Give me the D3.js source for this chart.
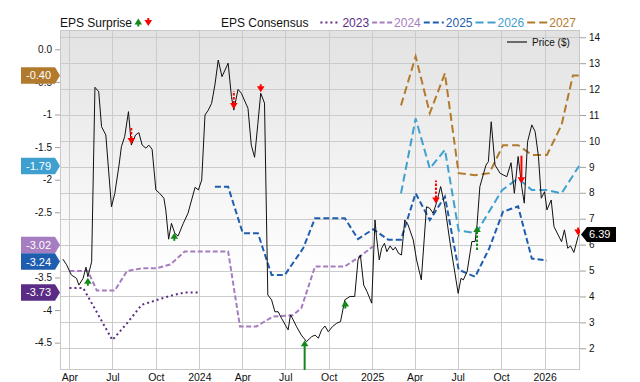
<!DOCTYPE html>
<html><head><meta charset="utf-8">
<script src="https://cdn.jsdelivr.net/npm/d3@7"></script>
<style>body{margin:0;background:#fff}svg{display:block;font-family:"Liberation Sans",Arial,Helvetica,sans-serif}</style>
</head><body><svg id="c" width="640" height="382"></svg>
<script>
// ---------------- data ----------------
const priceDates = ["2023-03-18","2023-03-26","2023-04-05","2023-04-16","2023-04-21","2023-04-30","2023-05-06","2023-05-10","2023-05-18","2023-05-25","2023-06-02","2023-06-08","2023-06-17","2023-06-29","2023-07-06","2023-07-15","2023-07-20","2023-07-27","2023-08-04","2023-08-10","2023-08-19","2023-08-26","2023-09-02","2023-09-10","2023-09-16","2023-09-23","2023-10-01","2023-10-09","2023-10-18","2023-10-22","2023-10-28","2023-11-03","2023-11-10","2023-11-17","2023-11-28","2023-12-08","2023-12-23","2023-12-30","2024-01-06","2024-01-13","2024-01-20","2024-01-27","2024-02-03","2024-02-10","2024-02-18","2024-03-02","2024-03-09","2024-03-14","2024-03-23","2024-03-30","2024-04-13","2024-04-20","2024-04-27","2024-05-04","2024-05-10","2024-05-18","2024-05-25","2024-06-02","2024-06-09","2024-06-16","2024-06-23","2024-07-07","2024-07-12","2024-07-18","2024-07-25","2024-08-04","2024-08-15","2024-08-26","2024-09-02","2024-09-09","2024-09-16","2024-09-23","2024-09-30","2024-10-09","2024-10-18","2024-10-26","2024-11-04","2024-11-15","2024-11-25","2024-12-02","2024-12-07","2024-12-14","2024-12-21","2024-12-31","2025-01-07","2025-01-10","2025-01-16","2025-01-21","2025-01-27","2025-02-01","2025-02-08","2025-02-14","2025-02-19","2025-02-26","2025-03-04","2025-03-11","2025-03-18","2025-03-29","2025-04-05","2025-04-15","2025-04-26","2025-05-03","2025-05-10","2025-05-17","2025-05-26","2025-06-04","2025-06-14","2025-06-23","2025-07-02","2025-07-08","2025-07-13","2025-07-21","2025-07-31","2025-08-07","2025-08-11","2025-08-17","2025-08-30","2025-09-04","2025-09-10","2025-09-18","2025-09-29","2025-10-13","2025-10-22","2025-10-29","2025-11-06","2025-11-14","2025-11-19","2025-11-26","2025-12-05","2025-12-12","2025-12-19","2025-12-25","2026-01-01","2026-01-06","2026-01-15","2026-01-21","2026-02-06","2026-02-12","2026-02-19","2026-02-25","2026-03-04","2026-03-13","2026-03-15"];
const priceValues = [5.44,5.22,4.83,4.70,4.44,4.70,5.13,4.76,5.34,12.07,11.90,10.55,10.23,7.46,7.97,9.07,9.78,10.17,11.13,9.84,10.23,10.32,9.84,9.72,9.84,9.68,8.11,7.98,7.79,7.34,6.21,6.82,6.44,6.33,6.82,7.21,8.21,8.11,8.49,11.00,11.19,11.45,12.16,13.12,12.48,13.00,11.71,11.19,11.99,11.84,11.26,9.84,9.37,10.68,11.84,11.46,4.06,3.87,3.41,3.41,3.16,2.71,3.29,3.09,2.83,2.51,2.26,2.45,2.51,2.39,2.71,2.86,2.64,2.84,2.97,3.03,3.87,4.00,4.00,5.41,5.60,4.44,4.19,3.74,6.95,6.31,5.41,5.86,6.05,5.73,5.95,5.79,5.90,5.66,5.60,6.95,6.76,6.18,5.41,4.64,7.46,7.40,7.21,7.60,8.24,7.46,6.18,5.15,4.12,4.70,4.64,4.96,6.12,6.12,6.76,8.24,9.07,9.20,10.74,9.07,8.75,8.62,9.16,7.98,9.40,8.18,7.60,9.97,10.62,10.36,9.40,7.79,8.04,7.34,7.72,6.69,6.11,6.57,5.86,5.95,5.70,6.31,6.39];

const eps2023Dates = ["2023-04-01","2023-04-30","2023-07-01","2023-08-01","2023-09-01","2023-10-01","2023-11-01","2023-12-01","2024-01-01"];
const eps2023 = [-3.66,-3.66,-4.46,-4.20,-3.92,-3.85,-3.78,-3.73,-3.73];

const eps2024Dates = ["2023-04-01","2023-05-10","2023-05-29","2023-07-06","2023-08-01","2023-09-01","2023-10-01","2023-11-01","2023-12-01","2024-03-02","2024-03-27","2024-05-01","2024-06-05","2024-07-17","2024-08-04","2024-09-02","2024-11-04","2024-12-06","2025-01-03"];
const eps2024 = [-3.40,-3.40,-3.70,-3.70,-3.40,-3.36,-3.36,-3.30,-3.10,-3.10,-4.25,-4.25,-4.10,-4.08,-3.97,-3.33,-3.33,-3.18,-3.02];

const eps2025Dates = ["2024-02-03","2024-03-02","2024-04-02","2024-05-04","2024-06-02","2024-06-30","2024-08-08","2024-09-02","2024-11-04","2024-12-02","2025-01-03","2025-02-04","2025-03-03","2025-04-03","2025-05-03","2025-06-04","2025-07-03","2025-08-07","2025-09-06","2025-10-05","2025-11-06","2025-12-05","2026-01-06"];
const eps2025 = [-2.11,-2.11,-2.82,-2.82,-3.46,-3.46,-3.05,-2.59,-2.59,-2.91,-2.76,-2.92,-2.92,-2.21,-2.62,-2.26,-3.38,-3.49,-3.05,-2.49,-2.41,-3.21,-3.24];

const eps2026Dates = ["2025-03-03","2025-04-03","2025-05-03","2025-06-04","2025-07-03","2025-08-09","2025-10-03","2025-11-06","2025-12-05","2026-01-06","2026-02-06","2026-03-15"];
const eps2026 = [-2.21,-1.06,-1.83,-1.54,-2.78,-2.82,-2.16,-1.98,-2.16,-2.16,-2.21,-1.79];

const eps2027Dates = ["2025-03-03","2025-04-03","2025-05-03","2025-06-04","2025-07-03","2025-08-07","2025-09-06","2025-10-05","2025-11-06","2025-12-05","2026-01-06","2026-02-06","2026-03-02","2026-03-15"];
const eps2027 = [-0.86,-0.11,-0.98,-0.37,-1.90,-1.93,-1.90,-1.47,-1.47,-1.62,-1.62,-1.16,-0.40,-0.40];

const surpriseDates = ["2023-05-10","2023-08-10","2023-11-09","2024-03-14","2024-05-10","2024-08-11","2024-11-05","2025-05-16","2025-08-11","2025-11-13","2026-03-13"];
const surpriseValues = [16,-34,14,-36,-14,60,16,-46,48,-55,-14];

const seriesNames = ["2023","2024","2025","2026","2027"];
const leftTicks = [0,-0.5,-1,-1.5,-2,-2.5,-3,-3.5,-4,-4.5];
const rightTicks = [2,3,4,5,6,7,8,9,10,11,12,13,14];

// ---------------- setup ----------------
const parse = d3.timeParse("%Y-%m-%d");
const L=60,R=580,T=30,B=370;
const svg = d3.select("#c");
const x = d3.scaleTime().domain([parse("2023-03-12"), parse("2026-03-17")]).range([L,R]);
const yL = d3.scaleLinear().domain([-4.919,0.296]).range([B,T]);
const yR = d3.scaleLinear().domain([1.163,14.28]).range([B,T]);

const seriesData = [
  {name:"2023", dates:eps2023Dates, vals:eps2023},
  {name:"2024", dates:eps2024Dates, vals:eps2024},
  {name:"2025", dates:eps2025Dates, vals:eps2025},
  {name:"2026", dates:eps2026Dates, vals:eps2026},
  {name:"2027", dates:eps2027Dates, vals:eps2027}
].map(s => ({name:s.name, pts:s.dates.map((d,i)=>({d:parse(d), v:s.vals[i]}))}));
const colors = {"2023":"#5b2c86","2024":"#a67dc0","2025":"#1f5eaf","2026":"#3fa0cf","2027":"#b27a2c"};
const dashes = {"2023":"2,3","2024":"5,2.5","2025":"6,3","2026":"8,4","2027":"8,4"};
const price = priceDates.map((d,i)=>({d:parse(d), v:priceValues[i]}));

const defs = svg.append("defs");
const grad = defs.append("linearGradient").attr("id","bg").attr("x1",0).attr("y1",0).attr("x2",0).attr("y2",1);
grad.append("stop").attr("offset","0%").attr("stop-color","#e2e2e2");
grad.append("stop").attr("offset","72%").attr("stop-color","#ffffff");
grad.append("stop").attr("offset","100%").attr("stop-color","#ffffff");
defs.append("clipPath").attr("id","clip").append("rect").attr("x",L).attr("y",T).attr("width",R-L).attr("height",B-T);

svg.append("rect").attr("x",L).attr("y",T).attr("width",R-L).attr("height",B-T).attr("fill","url(#bg)");

// grid
const xTicks = x.ticks(d3.timeMonth.every(3));
const grid = svg.append("g").attr("stroke","#cbcbcb").attr("stroke-width",1);
grid.selectAll("line.v").data(xTicks).join("line").attr("class","v")
  .attr("x1",d=>Math.round(x(d))+0.5).attr("x2",d=>Math.round(x(d))+0.5).attr("y1",T).attr("y2",B);
grid.selectAll("line.h").data(rightTicks).join("line").attr("class","h")
  .attr("y1",d=>Math.round(yR(d))+0.5).attr("y2",d=>Math.round(yR(d))+0.5).attr("x1",L).attr("x2",R);
svg.append("rect").attr("x",L+0.5).attr("y",T+0.5).attr("width",R-L-1).attr("height",B-T-1)
  .attr("fill","none").attr("stroke","#c8c8c8");

// axes
const axL = svg.append("g").attr("transform",`translate(${L},0)`)
  .call(d3.axisLeft(yL).tickValues(leftTicks).tickSize(5).tickPadding(3).tickFormat(d=>d===0?"0.0":String(d)));
const axR = svg.append("g").attr("transform",`translate(${R},0)`)
  .call(d3.axisRight(yR).tickValues(rightTicks).tickSize(6).tickPadding(3).tickFormat(d=>String(d)));
const axB = svg.append("g").attr("transform",`translate(0,${B})`)
  .call(d3.axisBottom(x).tickValues(xTicks).tickSize(0).tickPadding(4)
    .tickFormat(d=>d.getMonth()===0?d3.timeFormat("%Y")(d):d3.timeFormat("%b")(d)));
[axL,axR,axB].forEach(a=>{
  a.select(".domain").remove();
  a.selectAll(".tick line").attr("stroke","#a0a0a0");
  a.selectAll("text").attr("fill","#111").style("font-size","10px").style("font-family","'Liberation Sans',Arial,sans-serif");
});
axB.selectAll("text").style("font-size","10.5px");

// plot content
const plot = svg.append("g").attr("clip-path","url(#clip)");
const lineL = d3.line().x(p=>x(p.d)).y(p=>yL(p.v));
plot.selectAll("path.cons").data(seriesData).join("path").attr("class","cons")
  .attr("d",s=>lineL(s.pts)).attr("fill","none")
  .attr("stroke",s=>colors[s.name]).attr("stroke-width",2).attr("stroke-dasharray",s=>dashes[s.name]);

const lineR = d3.line().x(p=>x(p.d)).y(p=>yR(p.v));
plot.append("path").attr("d",lineR(price)).attr("fill","none").attr("stroke","#111").attr("stroke-width",1).attr("stroke-linejoin","round");

// surprise arrows
const bis = d3.bisector(p=>p.d).left;
function priceAt(date){
  const i = Math.max(1, Math.min(price.length-1, bis(price,date)));
  const a = price[i-1], b = price[i];
  const t = (date-a.d)/(b.d-a.d);
  return a.v + (b.v-a.v)*Math.max(0,Math.min(1,t));
}
const lenScale = d3.scaleLinear().domain([0,60]).range([0,30]);
function drawArrow(g, cx, tipY, up, len, color, solid){
  const s = up ? 1 : -1, hh = 6, hw = 3.8;
  g.append("line").attr("x1",cx).attr("x2",cx).attr("y1",tipY+s*(hh-0.5)).attr("y2",tipY+s*len)
    .attr("stroke",color).attr("stroke-width",2).attr("stroke-dasharray",solid?null:"2.5,1.5");
  g.append("path").attr("d",`M${cx},${tipY}L${cx-hw},${tipY+s*hh}L${cx+hw},${tipY+s*hh}Z`).attr("fill",color);
}
const arrowsG = plot.append("g");
surpriseDates.forEach((ds,i)=>{
  const d = parse(ds), v = surpriseValues[i];
  const up = v>0;
  drawArrow(arrowsG, x(d), yR(priceAt(d))+(up?1:-1), up, Math.max(8,lenScale(Math.abs(v))), up?"#12891a":"#ff0000", Math.abs(v)>=50);
});

// legend (top)
const leg = svg.append("g").style("font-size","12px");
leg.append("text").attr("x",L).attr("y",27).attr("fill","#111").text("EPS Surprise");
drawArrow(leg, 138.3, 18.5, true, 8, "#12891a", true);
drawArrow(leg, 148.3, 26, false, 8, "#ff0000", true);
const consT = leg.append("text").attr("x",221).attr("y",27).attr("fill","#111").text("EPS Consensus");
let lx = 221 + consT.node().getComputedTextLength() + 12;
seriesNames.forEach(n=>{
  leg.append("line").attr("x1",lx).attr("x2",lx+20).attr("y1",22.5).attr("y2",22.5)
    .attr("stroke",colors[n]).attr("stroke-width",2).attr("stroke-dasharray",dashes[n]);
  const t = leg.append("text").attr("x",lx+22).attr("y",27).attr("fill",colors[n]).text(n);
  lx = lx + 22 + t.node().getComputedTextLength() + 3;
});
// price legend
svg.append("line").attr("x1",507).attr("x2",527).attr("y1",42).attr("y2",42).attr("stroke","#6a6a6a").attr("stroke-width",2);
svg.append("text").attr("x",532).attr("y",42).attr("dy","0.35em").style("font-size","10px").attr("fill","#111").text("Price ($)");

// left value badges
const badges = seriesData.map(s=>({name:s.name, v:s.pts[s.pts.length-1].v, y:yL(s.pts[s.pts.length-1].v)}))
  .sort((a,b)=>a.y-b.y);
const bh = 16.5;
for(let k=0;k<5;k++){
  for(let i=1;i<badges.length;i++){
    const gap = badges[i].y - badges[i-1].y;
    if(gap<bh){ const sh=(bh-gap)/2; badges[i-1].y-=sh; badges[i].y+=sh; }
  }
}
const bg = svg.append("g");
badges.forEach(b=>{
  bg.append("path").attr("d",`M21,${b.y-bh/2}H55L60,${b.y}L55,${b.y+bh/2}H21Z`).attr("fill",colors[b.name]);
  bg.append("text").attr("x",26).attr("y",b.y).attr("dy","0.36em").attr("fill","#fff").style("font-size","11px").text(b.v.toFixed(2));
});
// price badge
const lastP = price[price.length-1];
const py = yR(lastP.v);
svg.append("path").attr("d",`M581,${py}L587,${py-7.5}H616V${py+7.5}H587Z`).attr("fill","#000");
svg.append("text").attr("x",589).attr("y",py).attr("dy","0.36em").attr("fill","#fff").style("font-size","11px").text(lastP.v.toFixed(2));
</script></body></html>
